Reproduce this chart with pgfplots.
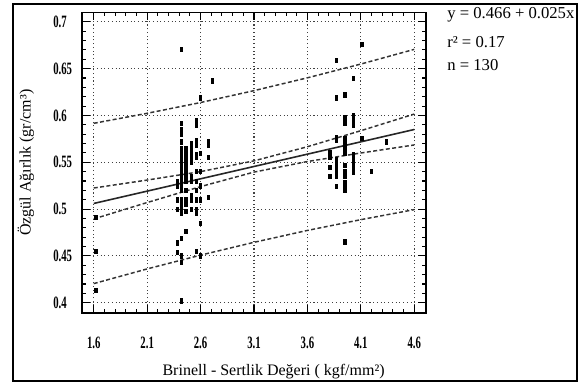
\documentclass[border=0pt]{standalone}
\usepackage{pgfplots}
\pgfplotsset{compat=1.18}
\usepackage{fontspec}
\setmainfont{Liberation Serif}
\newcommand\tl[1]{\scalebox{0.62}[1]{\fontsize{13}{14}\selectfont\bfseries #1}}
\pgfplotstableread{
x y
1.62 0.491
1.62 0.455
1.62 0.413
2.38 0.464
2.38 0.454
2.38 0.510
2.38 0.500
2.38 0.525
2.38 0.530
2.42 0.671
2.42 0.592
2.42 0.585
2.42 0.580
2.42 0.572
2.42 0.565
2.42 0.560
2.42 0.555
2.42 0.550
2.42 0.545
2.42 0.540
2.42 0.535
2.42 0.530
2.42 0.525
2.42 0.520
2.42 0.510
2.42 0.505
2.42 0.500
2.42 0.496
2.42 0.469
2.42 0.443
2.42 0.402
2.42 0.450
2.46 0.565
2.46 0.560
2.46 0.555
2.46 0.550
2.46 0.545
2.46 0.540
2.46 0.535
2.46 0.530
2.46 0.520
2.46 0.510
2.46 0.505
2.46 0.498
2.46 0.476
2.51 0.570
2.51 0.565
2.51 0.560
2.51 0.555
2.51 0.550
2.51 0.535
2.51 0.530
2.51 0.515
2.51 0.510
2.51 0.500
2.56 0.595
2.56 0.590
2.56 0.573
2.56 0.568
2.56 0.558
2.56 0.555
2.56 0.540
2.56 0.530
2.56 0.520
2.56 0.510
2.56 0.500
2.56 0.496
2.56 0.455
2.60 0.619
2.60 0.560
2.60 0.540
2.60 0.525
2.60 0.510
2.60 0.485
2.60 0.450
2.67 0.572
2.67 0.568
2.67 0.555
2.67 0.513
2.71 0.637
3.81 0.561
3.81 0.556
3.81 0.545
3.81 0.535
3.87 0.659
3.87 0.619
3.87 0.577
3.87 0.574
3.87 0.553
3.87 0.549
3.87 0.545
3.87 0.540
3.87 0.535
3.87 0.524
3.95 0.622
3.95 0.598
3.95 0.595
3.95 0.592
3.95 0.576
3.95 0.570
3.95 0.565
3.95 0.560
3.95 0.547
3.95 0.540
3.95 0.535
3.95 0.528
3.95 0.524
3.95 0.520
3.95 0.465
4.03 0.640
4.03 0.600
4.03 0.595
4.03 0.590
4.03 0.558
4.03 0.553
4.03 0.548
4.03 0.545
4.03 0.539
4.11 0.676
4.11 0.576
4.20 0.540
4.34 0.572
}\pts
\begin{document}
\begin{tikzpicture}[x=1pt,y=1pt]
\path[use as bounding box] (0,0) rectangle (436.5,287.25);
\draw[line width=1.5pt] (9.75,1.5) rectangle (432.75,284.25);
\begin{axis}[
 at={(61.5pt,52.5pt)}, anchor=south west,
 scale only axis, width=258pt, height=225.4pt,
 xmin=1.49, xmax=4.71, ymin=0.389, ymax=0.710,
 xtick={1.6,2.1,2.6,3.1,3.6,4.1,4.6},
 xticklabels={\tl{1.6},\tl{2.1},\tl{2.6},\tl{3.1},\tl{3.6},\tl{4.1},\tl{4.6}},
 ytick={0.4,0.45,0.5,0.55,0.6,0.65,0.7},
 yticklabels={\tl{0.4},\tl{0.45},\tl{0.5},\tl{0.55},\tl{0.6},\tl{0.65},\tl{0.7}},
 minor x tick num=4, minor y tick num=4,
 tick align=inside,
 major tick length=6pt, minor tick length=3pt,
 every tick/.style={black, line width=0.8pt},
 axis line style={line width=1.3pt},
 grid=major,
 major grid style={black!75, line width=0.8pt, dash pattern=on 0.8pt off 2pt},
 xticklabel style={anchor=center, inner sep=0pt, yshift=-22.5pt},
 yticklabel style={anchor=west, inner sep=0pt, xshift=-21.75pt},
 xlabel={Brinell - Sertlik Değeri ( kgf/mm²)},
 ylabel={Özgül Ağırlık (gr/cm³)},
 every axis x label/.style={at={(axis description cs:0.557,-0.196)}, anchor=center, font=\fontsize{12}{14}\selectfont},
 every axis y label/.style={at={(axis description cs:-0.163,0.5)}, anchor=center, rotate=90, font=\fontsize{12}{14}\selectfont},
 clip=false,
]
\addplot[only marks, mark=square*, mark size=1.6pt, mark options={xscale=0.55, black}] table {\pts};
\addplot[line width=1.2pt, black!85] coordinates {(1.6,0.506) (4.6,0.585)};
\addplot[line width=1.1pt, black!80, dash pattern=on 3pt off 1.8pt] coordinates {(1.6,0.5225) (2.1,0.531) (2.6,0.540) (3.1,0.5515) (3.6,0.5666) (4.1,0.5837) (4.6,0.6015)};
\addplot[line width=1.1pt, black!80, dash pattern=on 3pt off 1.8pt] coordinates {(1.6,0.4895) (2.1,0.507) (2.6,0.524) (3.1,0.5395) (3.6,0.5508) (4.1,0.5599) (4.6,0.5685)};
\addplot[line width=1.1pt, black!80, dash pattern=on 3pt off 1.8pt] coordinates {(1.6,0.5916) (2.1,0.6023) (2.6,0.6138) (3.1,0.6265) (3.6,0.6402) (4.1,0.6549) (4.6,0.6706)};
\addplot[line width=1.1pt, black!80, dash pattern=on 3pt off 1.8pt] coordinates {(1.6,0.4204) (2.1,0.4361) (2.6,0.4508) (3.1,0.4645) (3.6,0.4772) (4.1,0.4887) (4.6,0.4994)};
\end{axis}
\node[anchor=west, inner sep=0pt, font=\fontsize{12.5}{14}\selectfont] at (335.25,276) {y = 0.466 + 0.025x};
\node[anchor=west, inner sep=0pt, font=\fontsize{12.5}{14}\selectfont] at (335.25,255.75) {r² = 0.17};
\node[anchor=west, inner sep=0pt, font=\fontsize{12.5}{14}\selectfont] at (335.25,238.5) {n = 130};
\end{tikzpicture}
\end{document}
